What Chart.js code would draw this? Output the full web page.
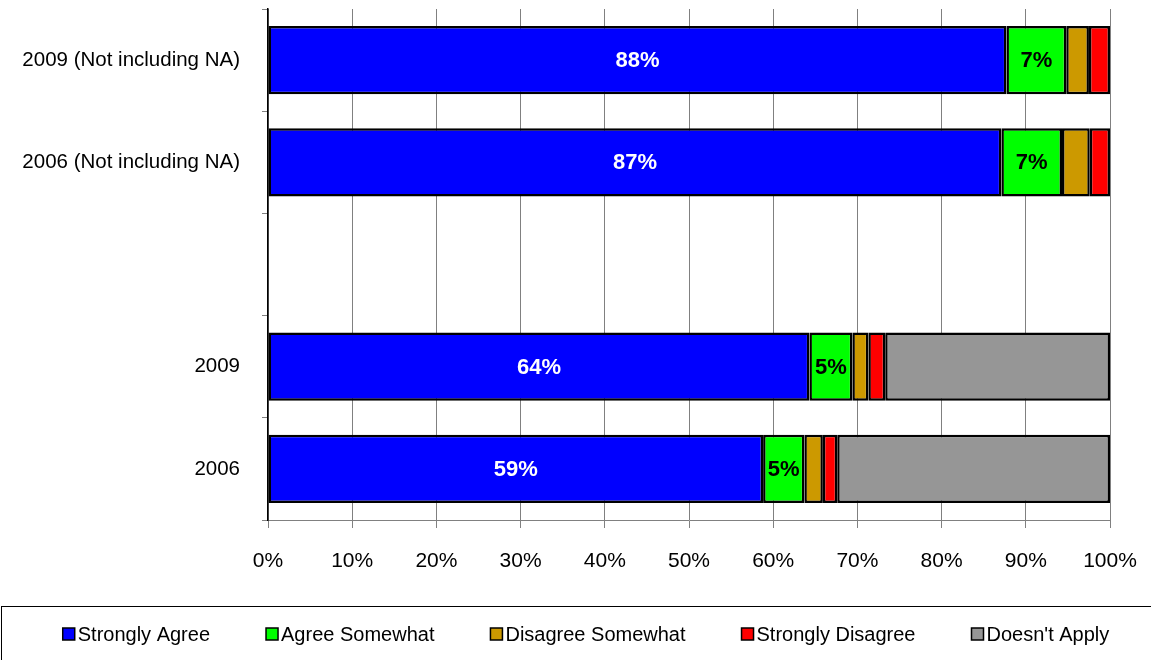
<!DOCTYPE html>
<html>
<head>
<meta charset="utf-8">
<script src="https://cdn.jsdelivr.net/npm/chart.js@4"></script>
<style>
  html, body { margin: 0; padding: 0; background: #fff; }
  #wrap { width: 1151px; height: 660px; position: relative; }
</style>
</head>
<body>
<div id="wrap"><canvas id="my-chart" width="1151" height="660"></canvas></div>
<script>
// categories, top to bottom (blank row is the gap between the two groups)
const categories = ['2009 (Not including NA)', '2006 (Not including NA)', '', '2009', '2006'];
const seriesNames = ['Strongly Agree', 'Agree Somewhat', 'Disagree Somewhat', 'Strongly Disagree', "Doesn't Apply"];
const stronglyAgree = [87.7, 87.1, null, 64.3, 58.8];
const agreeSomewhat = [7.1, 7.2, null, 5.1, 4.9];
const disagreeSomewhat = [2.7, 3.3, null, 1.9, 2.2];
const stronglyDisagree = [2.5, 2.4, null, 2.0, 1.7];
const doesntApply = [0, 0, null, 26.7, 32.4];
const xTicks = [0, 10, 20, 30, 40, 50, 60, 70, 80, 90, 100];
const colors = ['#0000ff', '#00ff00', '#cc9900', '#ff0000', '#969696'];
const FONT = "'Liberation Sans', Arial, sans-serif";

const values = [stronglyAgree, agreeSomewhat, disagreeSomewhat, stronglyDisagree, doesntApply];
const datasets = seriesNames.map((name, i) => ({
    label: name,
    data: values[i],
    backgroundColor: colors[i],
    borderColor: '#000',
    borderWidth: 2.5,
    borderSkipped: false,
    barPercentage: 0.667,
    categoryPercentage: 1
}));

// percentage labels on the blue and green segments
const barLabels = {
    id: 'barLabels',
    afterDatasetsDraw(chart) {
        const ctx = chart.ctx;
        ctx.save();
        ctx.font = 'bold 22px ' + FONT;
        ctx.textAlign = 'center';
        ctx.textBaseline = 'middle';
        [0, 1].forEach(di => {
            const meta = chart.getDatasetMeta(di);
            meta.data.forEach((bar, j) => {
                const v = chart.data.datasets[di].data[j];
                if (v == null) return;
                const p = bar.getProps(['x', 'y', 'base'], true);
                ctx.fillStyle = di === 0 ? '#fff' : '#000';
                ctx.fillText(Math.round(v) + '%', (p.x + p.base) / 2, p.y + 1);
            });
        });
        ctx.restore();
    }
};

// legend row inside a framed box under the chart
const boxLegend = {
    id: 'boxLegend',
    afterDraw(chart) {
        const ctx = chart.ctx;
        ctx.save();
        ctx.strokeStyle = '#000';
        ctx.lineWidth = 1;
        ctx.strokeRect(1.5, 606.5, 1160, 60);
        ctx.font = '20px ' + FONT;
        ctx.textBaseline = 'middle';
        const gap = 56, box = 12, boxGap = 3;
        const items = chart.data.datasets.map(d => ({ label: d.label, color: d.backgroundColor, w: box + boxGap + ctx.measureText(d.label).width }));
        const total = items.reduce((s, it) => s + it.w, 0) + gap * (items.length - 1);
        let x = 586 - total / 2;
        const y = 634;
        items.forEach(it => {
            ctx.fillStyle = it.color;
            ctx.fillRect(x, y - box / 2, box, box);
            ctx.strokeStyle = '#000';
            ctx.lineWidth = 1.5;
            ctx.strokeRect(x, y - box / 2, box, box);
            ctx.fillStyle = '#000';
            ctx.fillText(it.label, x + box + boxGap, y + 1);
            x += it.w + gap;
        });
        ctx.restore();
    }
};

const myChart = new Chart(document.getElementById('my-chart'), {
    type: 'bar',
    data: { labels: categories, datasets: datasets },
    options: {
        indexAxis: 'y',
        responsive: false,
        animation: false,
        layout: { padding: { top: 9, left: 0, right: 41, bottom: 55 } },
        plugins: { legend: { display: false }, tooltip: { enabled: false } },
        scales: {
            x: {
                stacked: true,
                min: 0,
                max: 100,
                afterBuildTicks(axis) { axis.ticks = xTicks.map(v => ({ value: v })); },
                afterFit(axis) { axis.height = 85; axis.paddingLeft = 0; axis.paddingRight = 0; },
                grid: { color: '#808080', lineWidth: 1, tickLength: 8 },
                border: { color: '#808080' },
                ticks: {
                    padding: 21,
                    color: '#000',
                    font: { family: FONT, size: 21 },
                    callback: v => v + '%'
                }
            },
            y: {
                stacked: true,
                afterFit(axis) { axis.width = 268; axis.paddingTop = 0; axis.paddingBottom = 0; },
                grid: { offset: true, drawOnChartArea: false, tickLength: 6, color: '#808080' },
                border: { color: '#000', width: 1.5 },
                ticks: {
                    padding: 22,
                    color: '#000',
                    font: { family: FONT, size: 20.5 }
                }
            }
        }
    },
    plugins: [barLabels, boxLegend]
});
</script>
</body>
</html>
